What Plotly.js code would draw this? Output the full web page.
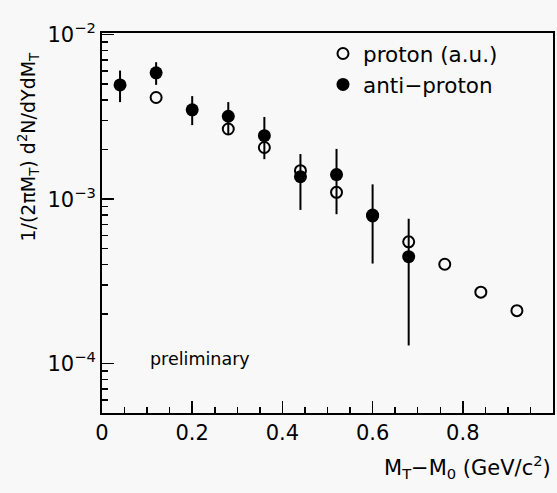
<!DOCTYPE html>
<html>
<head>
<meta charset="utf-8">
<script src="https://cdn.plot.ly/plotly-3.0.1.min.js"></script>
<style>html,body{margin:0;padding:0;background:#f8f8f8;}#chart{width:557px;height:493px;}</style>
</head>
<body>
<div id="chart"></div>
<script>
// proton (a.u.)
const protonX = [0.12, 0.28, 0.36, 0.44, 0.52, 0.60, 0.68, 0.76, 0.84, 0.92];
const protonY = [4.15e-3, 2.67e-3, 2.06e-3, 1.49e-3, 1.10e-3, 7.9e-4, 5.5e-4, 4.02e-4, 2.72e-4, 2.10e-4];

// anti-proton
const antiX = [0.04, 0.12, 0.20, 0.28, 0.36, 0.44, 0.52, 0.60, 0.68];
const antiY = [4.95e-3, 5.86e-3, 3.49e-3, 3.19e-3, 2.43e-3, 1.37e-3, 1.41e-3, 8.0e-4, 4.47e-4];
const antiHi = [6.05e-3, 6.8e-3, 4.23e-3, 3.89e-3, 3.16e-3, 1.88e-3, 2.02e-3, 1.23e-3, 7.6e-4];
const antiLo = [3.89e-3, 4.95e-3, 2.82e-3, 2.49e-3, 1.75e-3, 8.6e-4, 8.1e-4, 4.06e-4, 1.29e-4];

const xTickVals = [0, 0.2, 0.4, 0.6, 0.8, 1];
const xTickText = ['0', '0.2', '0.4', '0.6', '0.8', '1'];
const yTickVals = [1e-4, 1e-3, 1e-2];
const yTickText = ['10<sup>−4</sup>', '10<sup>−3</sup>', '10<sup>−2</sup>'];

const FONT = 'DejaVu Sans, Liberation Sans, sans-serif';

const traces = [
  {
    x: protonX, y: protonY, type: 'scatter', mode: 'markers', name: 'proton (a.u.)',
    marker: {symbol: 'circle-open', size: 11, color: '#000', line: {width: 2, color: '#000'}}
  },
  {
    x: antiX, y: antiY, type: 'scatter', mode: 'markers', name: 'anti−proton',
    marker: {symbol: 'circle', size: 13, color: '#000'},
    error_y: {
      type: 'data', symmetric: false,
      array: antiHi.map((h, i) => h - antiY[i]),
      arrayminus: antiLo.map((l, i) => antiY[i] - l),
      width: 0, thickness: 2, color: '#000'
    }
  }
];

const layout = {
  width: 557, height: 493,
  margin: {l: 102, r: 4, t: 33, b: 80},
  paper_bgcolor: '#f8f8f8', plot_bgcolor: '#f8f8f8',
  font: {family: FONT, size: 18, color: '#000'},
  showlegend: true,
  legend: {x: 0.49, y: 1.0, xanchor: 'left', yanchor: 'top', bgcolor: 'rgba(0,0,0,0)',
           font: {family: FONT, size: 21.5, color: '#000'}},
  xaxis: {
    range: [0, 1], showgrid: false, zeroline: false,
    showline: true, linecolor: '#000', linewidth: 2, mirror: true,
    ticks: 'inside', ticklen: 12, tickwidth: 1.5, tickcolor: '#000',
    tickmode: 'array', tickvals: xTickVals, ticktext: xTickText,
    tickfont: {family: FONT, size: 21, color: '#000'},
    minor: {ticks: 'inside', ticklen: 6, tickwidth: 1.5, tickcolor: '#000', dtick: 0.05, showgrid: false}
  },
  yaxis: {
    type: 'log', range: [-4.3, -1.99], showgrid: false, zeroline: false,
    showline: true, linecolor: '#000', linewidth: 2, mirror: true,
    ticks: 'inside', ticklen: 12, tickwidth: 1.5, tickcolor: '#000',
    tickmode: 'array', tickvals: yTickVals, ticktext: yTickText,
    tickfont: {family: FONT, size: 21, color: '#000'},
    minor: {ticks: 'inside', ticklen: 6, tickwidth: 1.5, tickcolor: '#000', dtick: 'D1', showgrid: false}
  },
  annotations: [
    {text: 'preliminary', xref: 'x', yref: 'y', x: 0.103, y: -3.97, xanchor: 'left', yanchor: 'middle',
     showarrow: false, font: {family: FONT, size: 17.5, color: '#000'}},
    {text: 'M<sub>T</sub>−M<sub>0</sub> (GeV/c<sup>2</sup>)', xref: 'paper', yref: 'paper',
     x: 1.0, y: -0.142, xanchor: 'right', yanchor: 'middle', showarrow: false,
     font: {family: FONT, size: 21, color: '#000'}},
    {text: '1/(2πM<sub>T</sub>) d<sup>2</sup>N/dYdM<sub>T</sub>', xref: 'paper', yref: 'paper',
     x: -0.165, y: 0.7, xanchor: 'center', yanchor: 'middle', textangle: -90, showarrow: false,
     font: {family: FONT, size: 19, color: '#000'}}
  ]
};

Plotly.newPlot('chart', traces, layout, {displayModeBar: false, staticPlot: true});
</script>
</body>
</html>
